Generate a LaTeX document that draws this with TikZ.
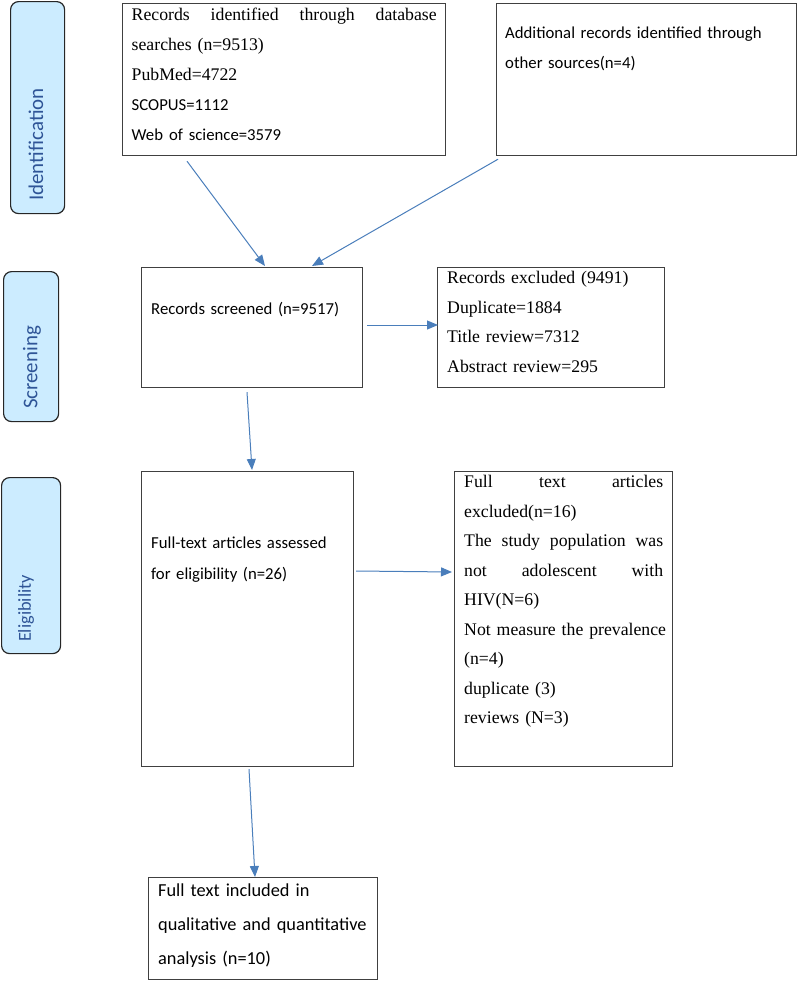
\documentclass[tikz,border=0pt]{standalone}
\usepackage{fontspec}
\setmainfont{Liberation Serif}
\newfontfamily\calfont{Carlito}
\usetikzlibrary{arrows.meta}
\setlength{\parindent}{0pt}
\definecolor{arrowblue}{HTML}{4A7EBB}
\definecolor{boxgray}{HTML}{404040}
\definecolor{labelfill}{HTML}{CCECFF}
\definecolor{labelblue}{HTML}{2F5597}
\newcommand\serA{\fontsize{17.8}{30}\selectfont}
\newcommand\sanA{\calfont\fontsize{16.8}{30}\selectfont}
\newcommand\jline[2]{\leavevmode\hbox to #1{#2}}
\begin{document}
\begin{tikzpicture}[x=1bp,y=-1bp,
  box/.style={draw=boxgray, line width=1.2bp, inner sep=0, anchor=north west},
  phase/.style={draw=black!85, fill=labelfill, rounded corners=8bp, line width=1.2bp, inner sep=0, anchor=north west},
  phasetext/.style={text=labelblue, rotate=90, inner sep=0, anchor=center},
  txt/.style={inner sep=0, anchor=north west, align=left, text width=#1},
  txt/.default=260bp,
  arr/.style={draw=arrowblue, line width=1bp, -{Triangle[length=11bp,width=9bp]}},
]
\useasboundingbox (0,0) rectangle (797,981);

% phase labels
\node[phase, minimum width=54bp, minimum height=212bp] (pid) at (10,1) {};
\node[phasetext, font=\calfont\fontsize{21}{25}\selectfont] (pidt) at (36,144.5) {Identification};
\node[phase, minimum width=55bp, minimum height=150bp] (psc) at (3,271) {};
\node[phasetext, font=\calfont\fontsize{21}{25}\selectfont] (psct) at (32,367.5) {Screening};
\node[phase, minimum width=59bp, minimum height=176bp] (pel) at (1,477) {};
\node[phasetext, font=\calfont\fontsize{18.4}{22}\selectfont] (pelt) at (26,608.5) {Eligibility};

% boxes
\node[box, minimum width=323bp, minimum height=152bp] (b1) at (122,3) {};
\node[box, minimum width=300bp, minimum height=152bp] (b2) at (496,3) {};
\node[box, minimum width=221bp, minimum height=120bp] (scr) at (141,267) {};
\node[box, minimum width=227bp, minimum height=120bp] (exc) at (437,267) {};
\node[box, minimum width=212bp, minimum height=295bp] (ft) at (141,471) {};
\node[box, minimum width=218bp, minimum height=295bp] (ex2) at (454,471) {};
\node[box, minimum width=229bp, minimum height=102bp] (fin) at (148,877) {};

% texts
\node[txt=305bp, font=\serA] (b1t) at (131.5,-0.5) {\strut\jline{305bp}{Records\hfill identified\hfill through\hfill database}\\
searches (n=9513)\\
PubMed=4722\\
{\sanA SCOPUS=1112}\\
{\sanA Web of science=3579}};
\node[txt, font=\sanA] (b2t) at (505,17.5) {\strut Additional records identified through\\
other sources(n=4)};
\node[txt, font=\sanA] (scrt) at (151,293.5) {\strut Records screened (n=9517)};
\node[txt, font=\fontsize{17.8}{29.7}\selectfont] (exct) at (447,262.7) {\strut Records excluded (9491)\\
Duplicate=1884\\
Title review=7312\\
Abstract review=295};
\node[txt, font=\calfont\fontsize{16.8}{31}\selectfont] (ftt) at (151,526.8) {\strut Full-text articles assessed\\
for eligibility (n=26)};
\node[txt=199bp, font=\fontsize{17.8}{29.6}\selectfont] (ex2t) at (464,466.8) {\strut\jline{199bp}{Full\hfill text\hfill articles}\\
excluded(n=16)\\
\jline{199bp}{The\hfill study\hfill population\hfill was}\\
\jline{199bp}{not\hfill adolescent\hfill with}\\
HIV(N=6)\\
\jline{199bp}{Not measure the prevalence}\\
(n=4)\\
duplicate (3)\\
reviews (N=3)};
\node[txt, font=\calfont\fontsize{18.4}{34}\selectfont] (fint) at (158,872.7) {\strut Full text included in\\
qualitative and quantitative\\
analysis (n=10)};

% connectors
\draw[arr] ([shift={(65,5)}]b1.south west) -- ([shift={(124,-1)}]scr.north west);
\draw[arr] ([shift={(2,3)}]b2.south west) -- ([shift={(171,-1)}]scr.north west);
\draw[arr] ([shift={(4,58)}]scr.north east) -- ([shift={(1,58)}]exc.north west);
\draw[arr] ([shift={(106,4)}]scr.south west) -- ([shift={(111,-1)}]ft.north west);
\draw[arr] ([shift={(2,100)}]ft.north east) -- ([shift={(-2,101)}]ex2.north west);
\draw[arr] ([shift={(108,2)}]ft.south west) -- ([shift={(107,0)}]fin.north west);
\end{tikzpicture}
\end{document}
